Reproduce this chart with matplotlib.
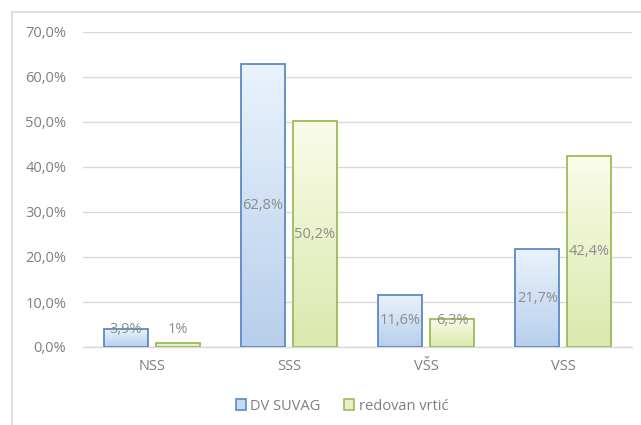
import matplotlib
matplotlib.use("Agg")
import matplotlib.pyplot as plt
import numpy as np
from matplotlib.patches import Patch
from matplotlib.colors import LinearSegmentedColormap
from matplotlib.lines import Line2D

categories = ["NSS", "SSS", "VŠS", "VSS"]
dv_suvag = [3.9, 62.8, 11.6, 21.7]
redovan = [1.0, 50.2, 6.3, 42.4]
dv_labels = ["3,9%", "62,8%", "11,6%", "21,7%"]
red_labels = ["1%", "50,2%", "6,3%", "42,4%"]
series_names = ["DV SUVAG", "redovan vrtić"]
yticks = [0, 10, 20, 30, 40, 50, 60, 70]

plt.rcParams['font.family'] = ['Open Sans', 'DejaVu Sans']

W, H = 641, 425
fig = plt.figure(figsize=(W / 100, H / 100), dpi=100)
ax = fig.add_axes([83 / W, (H - 347) / H, (632 - 83) / W, (347 - 32) / H])

x = np.arange(len(categories))
bw = 0.32
off = 0.19
fs = 10.5

blue_cmap = LinearSegmentedColormap.from_list("b", ["#b7cfec", "#eaf3fc"])
green_cmap = LinearSegmentedColormap.from_list("g", ["#dbe8ad", "#fafce9"])
grad = np.linspace(0, 1, 256).reshape(-1, 1)

def draw(vals, xs, edge, cmap):
    bars = ax.bar(xs, vals, bw, facecolor="none", edgecolor=edge, linewidth=1.3, zorder=3)
    for b in bars:
        x0, y0 = b.get_x(), b.get_y()
        w, h = b.get_width(), b.get_height()
        im = ax.imshow(grad, cmap=cmap, origin="lower", aspect="auto",
                       extent=[x0, x0 + w, y0, y0 + h], zorder=2)
        im.set_clip_path(b)
    return bars

draw(dv_suvag, x - off, "#5a8ac6", blue_cmap)
draw(redovan, x + off, "#9bbb59", green_cmap)

def label_y(v):
    if v < 5:
        return 3.8
    if v < 8:
        return 5.8
    return v / 2

for i in range(len(categories)):
    ax.text(x[i] - off, label_y(dv_suvag[i]), dv_labels[i], ha="center", va="center",
            color="#8c8c8c", fontsize=fs, zorder=5)
    ax.text(x[i] + off, label_y(redovan[i]), red_labels[i], ha="center", va="center",
            color="#8c8c8c", fontsize=fs, zorder=5)

ax.set_xlim(-0.5, len(categories) - 0.5)
ax.set_ylim(0, 70)
ax.set_yticks(yticks)
ax.set_yticklabels([f"{t:.1f}%".replace(".", ",") for t in yticks])
ax.set_xticks(x)
ax.set_xticklabels(categories)
ax.tick_params(axis="both", length=0, colors="#7f7f7f", labelsize=fs)
ax.tick_params(axis="y", pad=12)
ax.tick_params(axis="x", pad=9)
ax.grid(axis="y", color="#d9d9d9", linewidth=1, zorder=0)
ax.set_axisbelow(True)
for s in ["top", "right", "left"]:
    ax.spines[s].set_visible(False)
ax.spines["bottom"].set_color("#d9d9d9")
ax.spines["bottom"].set_linewidth(1)

handles = [Patch(facecolor="#c6dbf2", edgecolor="#5a8ac6", linewidth=1.2),
           Patch(facecolor="#e6f0c4", edgecolor="#9bbb59", linewidth=1.2)]
fig.legend(handles, series_names, loc="center", bbox_to_anchor=(342 / W, (H - 406) / H),
           ncol=2, frameon=False, fontsize=fs, labelcolor="#7f7f7f",
           handlelength=0.7, handleheight=0.7, handletextpad=0.3, columnspacing=1.6)

# outer chart frame (left and top edges visible)
fig.add_artist(Line2D([12 / W, 12 / W], [0, (H - 12) / H], color="#d9d9d9", lw=1.2,
                      transform=fig.transFigure))
fig.add_artist(Line2D([12 / W, 1], [(H - 12) / H, (H - 12) / H], color="#d9d9d9", lw=1.2,
                      transform=fig.transFigure))

fig.savefig("out.png", dpi=100)
